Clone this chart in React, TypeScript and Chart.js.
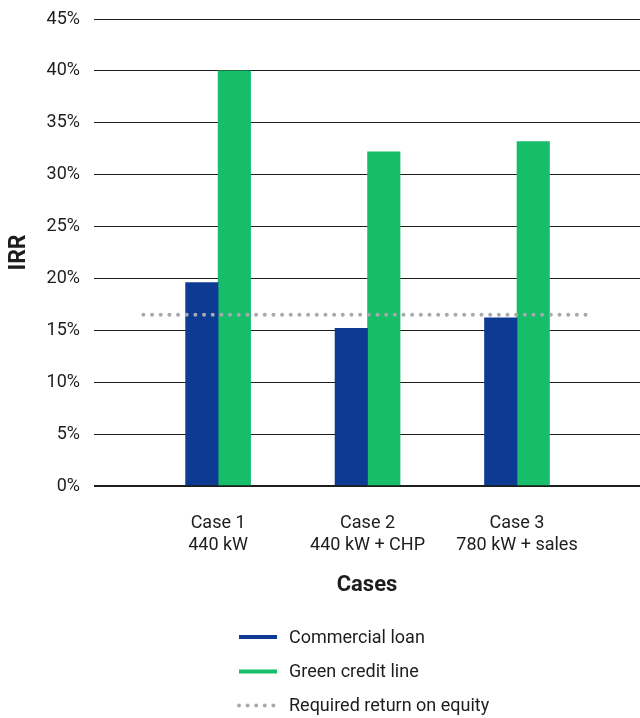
import { useEffect, useRef } from "react";
import { Chart, registerables } from "chart.js";

Chart.register(...registerables);

// Categories (placed at x = 1, 2, 3 on a linear index axis)
const caseNames = ["Case 1", "Case 2", "Case 3"];
const caseDetails = ["440 kW", "440 kW + CHP", "780 kW + sales"];
const casePositions = [1, 2, 3];

// IRR in percent
const commercialLoan = [19.6, 15.2, 16.2];
const greenCreditLine = [40.0, 32.2, 33.2];

// Required return on equity, drawn across the cases
const requiredReturn = 16.5;
const requiredReturnSpan = [0.5, 3.5];

const yMin = 0;
const yMax = 45;
const yStep = 5;

const FONT = "Roboto, 'Noto Sans', sans-serif";
const TEXT = "#1d1d1b";
const BLUE = "#0d3b94";
const GREEN = "#17be6a";
const GREY = "#a6aaae";

// Vertical legend underneath the axis title
const stackedLegend = {
  id: "stackedLegend",
  afterDraw(chart: any) {
    const { ctx } = chart;
    const rows = [637, 671.5, 705.5];
    const x0 = 239;
    const x1 = 277;
    ctx.save();
    chart.data.datasets.forEach((ds: any, i: number) => {
      const y = rows[i];
      ctx.beginPath();
      ctx.moveTo(x0, y);
      ctx.lineTo(x1, y);
      if (ds.type === "line") {
        ctx.strokeStyle = ds.borderColor;
        ctx.lineWidth = 4;
        ctx.lineCap = "round";
        ctx.setLineDash([0, 8.6]);
      } else {
        ctx.strokeStyle = ds.backgroundColor;
        ctx.lineWidth = 4;
        ctx.lineCap = "butt";
        ctx.setLineDash([]);
      }
      ctx.stroke();
      ctx.setLineDash([]);
      ctx.fillStyle = TEXT;
      ctx.font = `18px ${FONT}`;
      ctx.textAlign = "left";
      ctx.textBaseline = "middle";
      ctx.fillText(ds.label, 289, y + 1);
    });
    ctx.restore();
  },
};

export default function App() {
  const canvasRef = useRef<HTMLCanvasElement | null>(null);

  useEffect(() => {
    if (!canvasRef.current) return;
    const chart = new Chart(canvasRef.current, {
      type: "bar",
      data: {
        datasets: [
          {
            type: "bar",
            label: "Commercial loan",
            data: casePositions.map((x, i) => ({ x, y: commercialLoan[i] })),
            backgroundColor: BLUE,
            barThickness: 32.5,
            order: 1,
          },
          {
            type: "bar",
            label: "Green credit line",
            data: casePositions.map((x, i) => ({ x, y: greenCreditLine[i] })),
            backgroundColor: GREEN,
            barThickness: 32.5,
            order: 1,
          },
          {
            type: "line",
            label: "Required return on equity",
            data: requiredReturnSpan.map((x) => ({ x, y: requiredReturn })),
            borderColor: GREY,
            borderWidth: 4,
            borderCapStyle: "round",
            borderDash: [0, 8.67],
            pointRadius: 0,
            fill: false,
            order: 0,
          },
        ] as any,
      },
      options: {
        responsive: false,
        animation: false,
        layout: { padding: { top: 19, bottom: 112, left: 0, right: 0 } },
        plugins: {
          legend: { display: false },
          tooltip: { enabled: false },
        },
        scales: {
          x: {
            type: "linear",
            min: 0.1696,
            max: 3.823,
            offset: false,
            grid: { display: false, drawTicks: false },
            border: { display: false },
            afterBuildTicks: (scale: any) => {
              scale.ticks = casePositions.map((v) => ({ value: v }));
            },
            afterFit: (scale: any) => {
              scale.height = 120;
              scale.paddingLeft = 0;
              scale.paddingRight = 0;
            },
            ticks: {
              autoSkip: false,
              maxRotation: 0,
              padding: 27,
              color: TEXT,
              font: { family: FONT, size: 18, lineHeight: 1.2 },
              callback: (value: any) => {
                const i = casePositions.indexOf(Number(value));
                return i >= 0 ? [caseNames[i], caseDetails[i]] : "";
              },
            },
            title: {
              display: true,
              text: "Cases",
              color: TEXT,
              font: { family: FONT, size: 22, weight: "bold", lineHeight: 1.2 },
              padding: { top: 0, bottom: 7 },
            },
          },
          y: {
            min: yMin,
            max: yMax,
            grid: {
              color: "#1d1d1b",
              lineWidth: (c: any) => (c.tick && c.tick.value === 0 ? 2 : 1),
              drawTicks: false,
            },
            border: { display: false },
            afterFit: (scale: any) => {
              scale.width = 94;
              scale.paddingTop = 0;
              scale.paddingBottom = 0;
            },
            ticks: {
              stepSize: yStep,
              padding: 14,
              color: TEXT,
              font: { family: FONT, size: 18 },
              callback: (value: any) => `${value}%`,
            },
            title: {
              display: true,
              text: "IRR",
              color: TEXT,
              font: { family: FONT, size: 23, weight: "bold", lineHeight: 1.2 },
              padding: { top: 5, bottom: 0 },
            },
          },
        },
      } as any,
      plugins: [stackedLegend],
    });
    return () => chart.destroy();
  }, []);

  return (
    <div style={{ position: "absolute", left: 0, top: 0, width: 640, height: 718, background: "#fff" }}>
      <canvas ref={canvasRef} width={640} height={718} />
    </div>
  );
}
